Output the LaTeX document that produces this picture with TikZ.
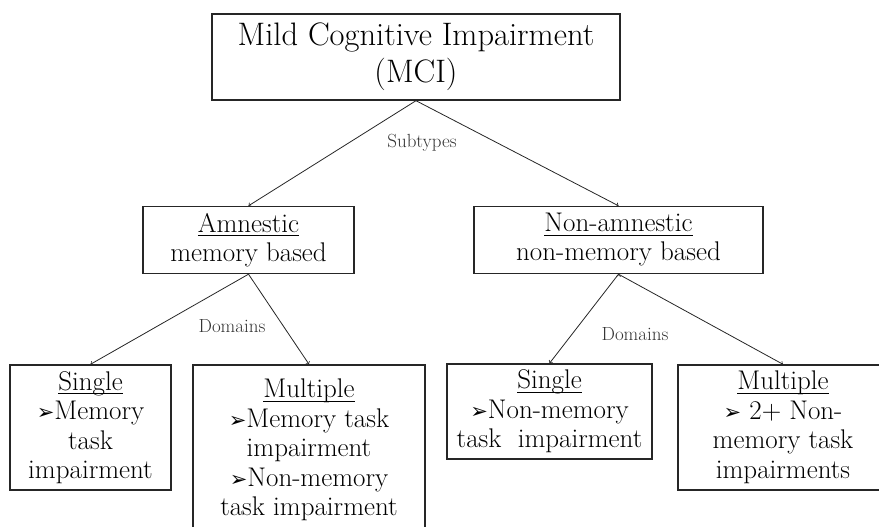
\documentclass[tikz,border=0pt]{standalone}
\usepackage{amsmath}
\usepackage{fontspec}
\newfontfamily\dingfont{DejaVu Sans}
\usetikzlibrary{positioning}
\usetikzlibrary{arrows}
\newcommand{\arrowbullet}{{\dingfont\fontsize{21}{21}\selectfont ➢}}
\newcommand{\headword}[1]{\underline{\smash[b]{#1}}}

\begin{document}
\begin{tikzpicture}[x=1pt,y=-1pt,
    box/.style={draw=black!85,line width=1.4pt,align=center,inner sep=0pt},
    bigtext/.style={font=\fontsize{32.5}{37}\selectfont},
    midtext/.style={font=\fontsize{27}{29}\selectfont},
    smalltext/.style={font=\fontsize{27}{29.5}\selectfont},
    lbl/.style={font=\fontsize{19}{21}\selectfont,text=black!80}
    ]
\useasboundingbox (0,0) rectangle (879,527);
\node[box,bigtext,minimum width=408pt,minimum height=86pt] (mci) at (416,57)
  {Mild Cognitive Impairment\\(MCI)};
\node[box,midtext,minimum width=211pt,minimum height=67pt] (amn) at (248.5,240)
  {\headword{Amnestic}\\memory based};
\node[box,midtext,minimum width=289pt,minimum height=67pt] (nonamn) at (618.5,240)
  {\headword{Non-amnestic}\\non-memory based};
\node[box,smalltext,minimum width=161pt,minimum height=125pt] (single1) at (90.5,427.5)
  {\headword{Single}\\\arrowbullet Memory\\task\\impairment};
\node[box,smalltext,minimum width=232pt,minimum height=170pt] (multi1) at (309,450)
  {\headword{Multiple}\\\arrowbullet Memory task\\impairment\\\arrowbullet Non-memory\\task impairment};
\node[box,smalltext,minimum width=205pt,minimum height=95pt] (single2) at (549.5,411.5)
  {\headword{Single}\\\arrowbullet Non-memory\\task~~impairment};
\node[box,smalltext,minimum width=210pt,minimum height=125pt] (multi2) at (783,427.5)
  {\headword{Multiple}\\\arrowbullet~2+ Non-\\memory task\\impairments};
\node[lbl] (subtypes) at (422,143) {Subtypes};
\node[lbl] (dom1) at (232,326) {Domains};
\node[lbl] (dom2) at (635,334) {Domains};
\path[-to,draw=black!85,line width=0.8pt]
  (mci.south) edge (amn.north)
              edge (nonamn.north)
  (amn.south) edge (single1.north)
              edge (multi1.north)
  (nonamn.south) edge (single2.north)
                 edge (multi2.north)
  ;
\end{tikzpicture}
\end{document}
